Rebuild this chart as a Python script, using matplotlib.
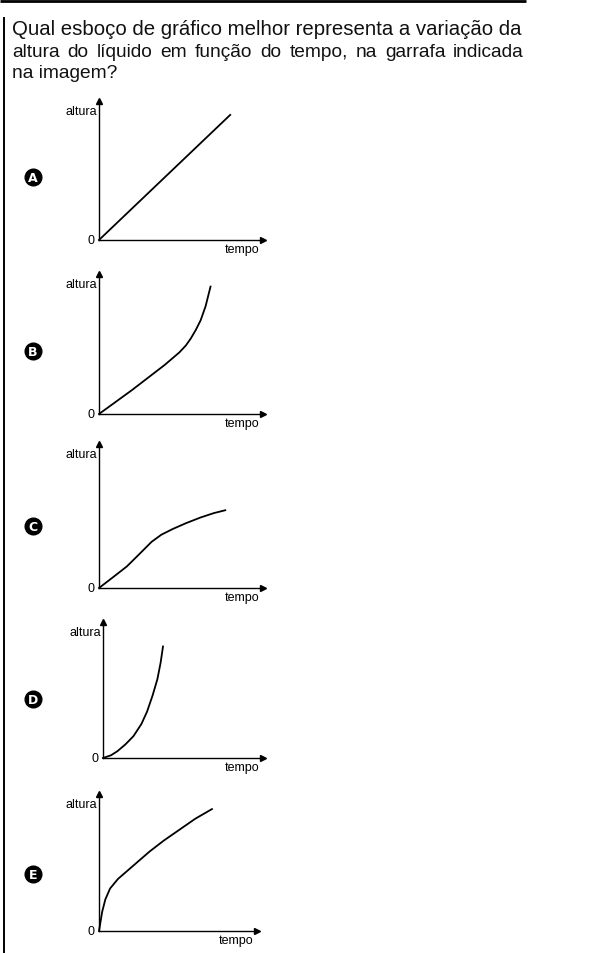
import matplotlib
matplotlib.use("Agg")
import matplotlib.pyplot as plt

W, H = 591, 954

question = [
    "Qual esboço de gráfico melhor representa a variação da",
    "altura do líquido em função do tempo, na garrafa indicada",
    "na imagem?",
]
letters = ["A", "B", "C", "D", "E"]
x_label = "tempo"
y_label = "altura"
origin_label = "0"

# curves, in axis units (0..1 up to the arrow tips)
t_a = [0.0, 0.80]
h_a = [0.0, 0.90]
t_b = [0.0, 0.20, 0.40, 0.45, 0.49, 0.53, 0.56, 0.59, 0.62, 0.65, 0.68]
h_b = [0.0, 0.17, 0.35, 0.40, 0.44, 0.49, 0.54, 0.60, 0.67, 0.77, 0.91]
t_c = [0.0, 0.08, 0.17, 0.25, 0.32, 0.38, 0.45, 0.53, 0.62, 0.70, 0.77]
h_c = [0.0, 0.07, 0.15, 0.24, 0.32, 0.37, 0.41, 0.45, 0.49, 0.52, 0.54]
t_d = [0.0, 0.05, 0.09, 0.14, 0.19, 0.24, 0.275, 0.31, 0.34, 0.36, 0.375]
h_d = [0.0, 0.02, 0.05, 0.10, 0.16, 0.25, 0.34, 0.46, 0.58, 0.70, 0.82]
t_e = [0.0, 0.01, 0.02, 0.04, 0.07, 0.12, 0.18, 0.25, 0.32, 0.41, 0.51, 0.61, 0.715]
h_e = [0.0, 0.07, 0.14, 0.23, 0.31, 0.38, 0.44, 0.51, 0.58, 0.66, 0.74, 0.82, 0.89]
curves = [(t_a, h_a), (t_b, h_b), (t_c, h_c), (t_d, h_d), (t_e, h_e)]

# panel frames in pixels: origin x, origin y, arrow top y, arrow right x
frames = [
    (99, 241, 102, 263),
    (99, 415, 275, 263),
    (99, 589, 445, 263),
    (103, 759, 623, 263),
    (99, 932, 795, 257),
]
letter_y = [178, 352, 527, 700, 875]

fig = plt.figure(figsize=(W / 100, H / 100), dpi=100)
renderer = fig.canvas.get_renderer()

# page decoration
deco = fig.add_axes([0, 0, 1, 1])
deco.set_xlim(0, W)
deco.set_ylim(H, 0)
deco.axis("off")
deco.plot([0, 526], [1.8, 1.8], color="black", lw=2.0, solid_capstyle="butt")
deco.plot([3.8, 3.8], [18, H], color="black", lw=1.4, solid_capstyle="butt")

text_left, text_right = 12, 524
deco.text(text_left, 35, question[0], fontsize=14.7, family="Liberation Sans",
          va="baseline", ha="left", color="#111111")

# second line is justified: spread the words over the full width
words = question[1].split()
pieces = [deco.text(0, 57, w, fontsize=13.8, family="Liberation Sans", va="baseline",
                    ha="left", color="#111111") for w in words]
widths = [p.get_window_extent(renderer).width for p in pieces]
gap = (text_right - text_left - sum(widths)) / (len(words) - 1)
x = text_left
for p, w in zip(pieces, widths):
    p.set_x(x)
    x += w + gap

deco.text(text_left, 78, question[2], fontsize=13.8, family="Liberation Sans",
          va="baseline", ha="left", color="#111111")

for (ox, oy, ty, rx), (t, h), lab, ly in zip(frames, curves, letters, letter_y):
    ax = fig.add_axes([ox / W, 1 - oy / H, (rx - ox) / W, (oy - ty) / H])
    ax.set_xlim(0, 1)
    ax.set_ylim(0, 1)
    for s in ("top", "right"):
        ax.spines[s].set_visible(False)
    for s in ("left", "bottom"):
        ax.spines[s].set_linewidth(1.0)
    ax.set_xticks([])
    ax.set_yticks([])
    ax.patch.set_alpha(0)
    ax.plot(t, h, color="black", lw=1.3, clip_on=False)
    ax.plot(1, 0, marker=">", color="black", ms=4, transform=ax.transAxes, clip_on=False)
    ax.plot(0, 1, marker="^", color="black", ms=4, transform=ax.transAxes, clip_on=False)
    ax.text(-0.012, 0.93, y_label, transform=ax.transAxes, ha="right", va="center",
            fontsize=9, family="Liberation Sans")
    ax.text(-0.03, 0.0, origin_label, transform=ax.transAxes, ha="right", va="center",
            fontsize=9, family="Liberation Sans")
    ax.text(0.975, -0.02, x_label, transform=ax.transAxes, ha="right", va="top",
            fontsize=9, family="Liberation Sans")
    deco.plot(33, ly, "o", ms=12, color="black")
    deco.text(33, ly + 0.5, lab, ha="center", va="center", color="white", fontsize=9,
              fontweight="bold", family="DejaVu Sans")

fig.savefig("out.png", dpi=100)
